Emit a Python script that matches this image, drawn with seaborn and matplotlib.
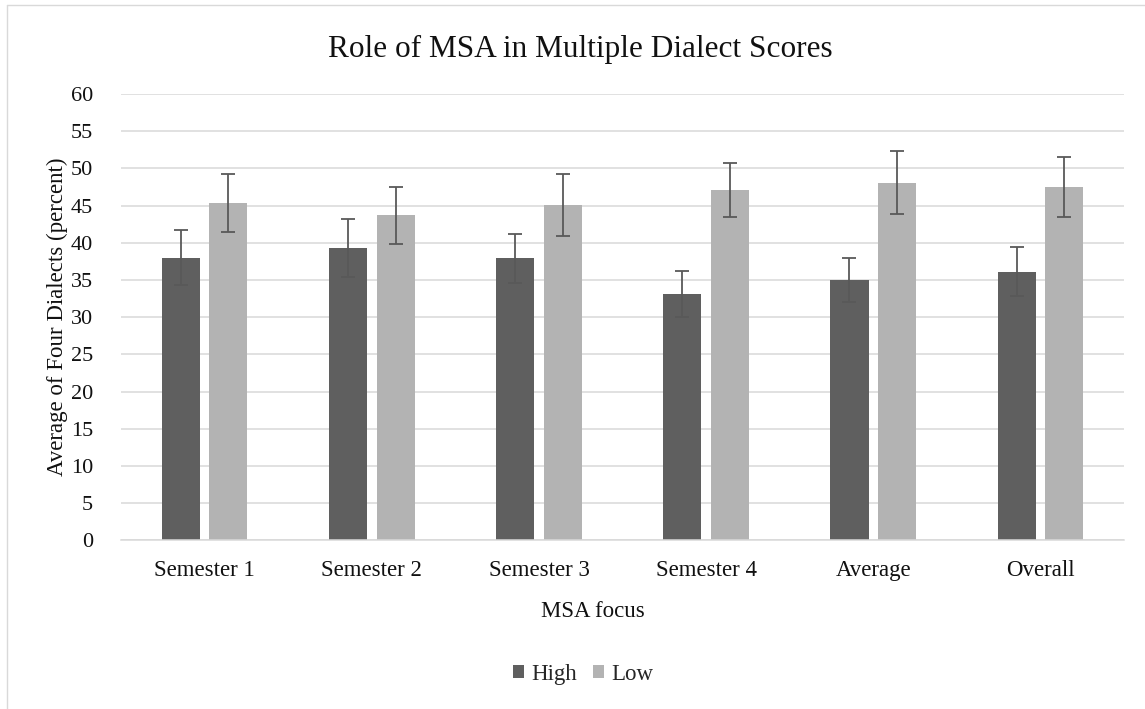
"""
Role of MSA in multiple dialect scores - grouped bars with error bars
"""

import pandas as pd
import seaborn as sns
import matplotlib.pyplot as plt
from matplotlib.lines import Line2D

# data
categories = ['Semester 1', 'Semester 2', 'Semester 3', 'Semester 4', 'Average', 'Overall']
high = [38.0, 39.3, 37.9, 33.1, 35.0, 36.1]
low = [45.4, 43.7, 45.1, 47.1, 48.1, 47.5]
high_err = [3.7, 3.9, 3.3, 3.1, 2.9, 3.3]
low_err = [3.9, 3.8, 4.2, 3.6, 4.2, 4.0]
levels = ['High', 'Low']

df = pd.DataFrame({
    'focus': categories * 2,
    'level': ['High'] * len(categories) + ['Low'] * len(categories),
    'score': high + low,
})
errs = {'High': high_err, 'Low': low_err}

sns.set_theme(style='white')
plt.rcParams['font.family'] = ['Liberation Serif', 'DejaVu Serif']

fig = plt.figure(figsize=(11.45, 7.09), dpi=100)
ax = fig.add_axes([0.1057, 0.2377, 0.876, 0.6297])

sns.barplot(data=df, x='focus', y='score', hue='level', hue_order=levels,
            palette=['#5f5f5f', '#b3b3b3'], saturation=1, width=0.57, gap=0.2,
            errorbar=None, linewidth=0, ax=ax, zorder=2)

# error bars on top of each bar
for cont, lvl in zip(ax.containers, levels):
    xs = [p.get_x() + p.get_width() / 2 for p in cont.patches]
    ys = [p.get_height() for p in cont.patches]
    ax.errorbar(xs, ys, yerr=errs[lvl], fmt='none', ecolor='#595959',
                elinewidth=1.3, capsize=4.7, capthick=1.3, zorder=3)

ax.set_ylim(0, 60)
ax.set_yticks(range(0, 61, 5))
ax.set_xlim(-0.5, len(categories) - 0.5)
ax.yaxis.grid(True, color='#d9d9d9', linewidth=1.1)
ax.set_axisbelow(True)
for s in ['top', 'right', 'left']:
    ax.spines[s].set_visible(False)
ax.spines['bottom'].set_color('#d9d9d9')
ax.spines['bottom'].set_linewidth(1.1)
ax.tick_params(axis='x', length=0, pad=14, labelsize=16.5, labelcolor='#111111')
ax.tick_params(axis='y', length=0, pad=20, labelsize=16, labelcolor='#111111')

ax.set_xlabel('MSA focus', fontsize=16.5, labelpad=14, color='#111111')
ax.xaxis.set_label_coords(0.47, -0.135)
ax.set_ylabel('Average of Four Dialects (percent)', fontsize=16.5, labelpad=2, color='#111111')

fig.text(0.507, 0.93, 'Role of MSA in Multiple Dialect Scores', ha='center', va='center',
         fontsize=22.5, color='#111111')

ax.legend(loc='center', ncol=2, frameon=False, fontsize=16.5, handlelength=0.5, handleheight=0.5,
          handletextpad=0.3, columnspacing=0.7)
leg = ax.get_legend()
leg.set_bbox_to_anchor((0.509, 0.049), transform=fig.transFigure)

# chart area border
fig.add_artist(Line2D([7 / 1145, 7 / 1145], [-0.01, 1 - 5 / 709], color='#d9d9d9', lw=1, transform=fig.transFigure))
fig.add_artist(Line2D([7 / 1145, 1.01], [1 - 5 / 709, 1 - 5 / 709], color='#d9d9d9', lw=1, transform=fig.transFigure))

plt.savefig('out.png', dpi=100)
